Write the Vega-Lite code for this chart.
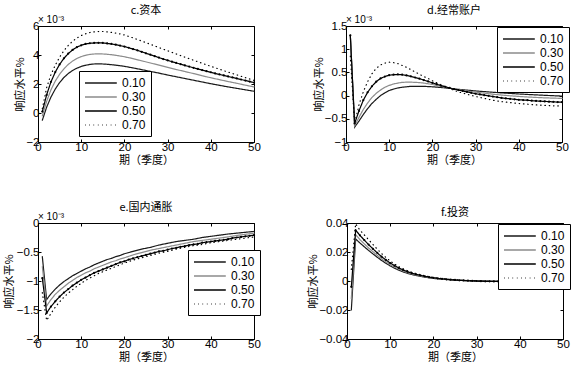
{
"$schema":"https://vega.github.io/schema/vega-lite/v6.json",
"background":"white",
"padding":{"left":2,"top":4,"right":4,"bottom":0},
"datasets":{
"c":[
{"s":"0.10","x":1,"y":-0.5},{"s":"0.10","x":2,"y":0.4},{"s":"0.10","x":3,"y":1.1},{"s":"0.10","x":4,"y":1.65},{"s":"0.10","x":5,"y":2.1},{"s":"0.10","x":6,"y":2.45},{"s":"0.10","x":7,"y":2.72},{"s":"0.10","x":8,"y":2.93},{"s":"0.10","x":9,"y":3.09},{"s":"0.10","x":10,"y":3.21},{"s":"0.10","x":11,"y":3.29},{"s":"0.10","x":12,"y":3.35},{"s":"0.10","x":13,"y":3.38},{"s":"0.10","x":14,"y":3.39},{"s":"0.10","x":15,"y":3.38},{"s":"0.10","x":16,"y":3.36},{"s":"0.10","x":17,"y":3.33},{"s":"0.10","x":18,"y":3.3},{"s":"0.10","x":19,"y":3.26},{"s":"0.10","x":20,"y":3.22},{"s":"0.10","x":22,"y":3.11},{"s":"0.10","x":24,"y":2.99},{"s":"0.10","x":26,"y":2.87},{"s":"0.10","x":28,"y":2.75},{"s":"0.10","x":30,"y":2.62},{"s":"0.10","x":32,"y":2.5},{"s":"0.10","x":34,"y":2.38},{"s":"0.10","x":36,"y":2.26},{"s":"0.10","x":38,"y":2.14},{"s":"0.10","x":40,"y":2.02},{"s":"0.10","x":42,"y":1.91},{"s":"0.10","x":44,"y":1.8},{"s":"0.10","x":46,"y":1.7},{"s":"0.10","x":48,"y":1.6},{"s":"0.10","x":50,"y":1.5},
{"s":"0.30","x":1,"y":-0.2},{"s":"0.30","x":2,"y":0.8},{"s":"0.30","x":3,"y":1.6},{"s":"0.30","x":4,"y":2.2},{"s":"0.30","x":5,"y":2.67},{"s":"0.30","x":6,"y":3.05},{"s":"0.30","x":7,"y":3.35},{"s":"0.30","x":8,"y":3.58},{"s":"0.30","x":9,"y":3.76},{"s":"0.30","x":10,"y":3.89},{"s":"0.30","x":11,"y":3.98},{"s":"0.30","x":12,"y":4.04},{"s":"0.30","x":13,"y":4.07},{"s":"0.30","x":14,"y":4.08},{"s":"0.30","x":15,"y":4.07},{"s":"0.30","x":16,"y":4.05},{"s":"0.30","x":17,"y":4.02},{"s":"0.30","x":18,"y":3.98},{"s":"0.30","x":19,"y":3.93},{"s":"0.30","x":20,"y":3.88},{"s":"0.30","x":22,"y":3.75},{"s":"0.30","x":24,"y":3.6},{"s":"0.30","x":26,"y":3.45},{"s":"0.30","x":28,"y":3.3},{"s":"0.30","x":30,"y":3.15},{"s":"0.30","x":32,"y":3.0},{"s":"0.30","x":34,"y":2.86},{"s":"0.30","x":36,"y":2.72},{"s":"0.30","x":38,"y":2.57},{"s":"0.30","x":40,"y":2.43},{"s":"0.30","x":42,"y":2.3},{"s":"0.30","x":44,"y":2.17},{"s":"0.30","x":46,"y":2.05},{"s":"0.30","x":48,"y":1.92},{"s":"0.30","x":50,"y":1.8},
{"s":"0.50","x":1,"y":0.1},{"s":"0.50","x":2,"y":1.25},{"s":"0.50","x":3,"y":2.15},{"s":"0.50","x":4,"y":2.82},{"s":"0.50","x":5,"y":3.35},{"s":"0.50","x":6,"y":3.77},{"s":"0.50","x":7,"y":4.1},{"s":"0.50","x":8,"y":4.35},{"s":"0.50","x":9,"y":4.54},{"s":"0.50","x":10,"y":4.67},{"s":"0.50","x":11,"y":4.76},{"s":"0.50","x":12,"y":4.81},{"s":"0.50","x":13,"y":4.83},{"s":"0.50","x":14,"y":4.84},{"s":"0.50","x":15,"y":4.83},{"s":"0.50","x":16,"y":4.8},{"s":"0.50","x":17,"y":4.76},{"s":"0.50","x":18,"y":4.71},{"s":"0.50","x":19,"y":4.65},{"s":"0.50","x":20,"y":4.58},{"s":"0.50","x":21,"y":4.5},{"s":"0.50","x":22,"y":4.41},{"s":"0.50","x":23,"y":4.32},{"s":"0.50","x":24,"y":4.22},{"s":"0.50","x":25,"y":4.12},{"s":"0.50","x":26,"y":4.02},{"s":"0.50","x":27,"y":3.92},{"s":"0.50","x":28,"y":3.82},{"s":"0.50","x":29,"y":3.72},{"s":"0.50","x":30,"y":3.63},{"s":"0.50","x":31,"y":3.54},{"s":"0.50","x":32,"y":3.45},{"s":"0.50","x":33,"y":3.37},{"s":"0.50","x":34,"y":3.28},{"s":"0.50","x":35,"y":3.2},{"s":"0.50","x":36,"y":3.12},{"s":"0.50","x":37,"y":3.04},{"s":"0.50","x":38,"y":2.96},{"s":"0.50","x":39,"y":2.88},{"s":"0.50","x":40,"y":2.81},{"s":"0.50","x":41,"y":2.73},{"s":"0.50","x":42,"y":2.66},{"s":"0.50","x":43,"y":2.59},{"s":"0.50","x":44,"y":2.52},{"s":"0.50","x":45,"y":2.45},{"s":"0.50","x":46,"y":2.38},{"s":"0.50","x":47,"y":2.31},{"s":"0.50","x":48,"y":2.24},{"s":"0.50","x":49,"y":2.17},{"s":"0.50","x":50,"y":2.1},
{"s":"0.70","x":1,"y":0.3},{"s":"0.70","x":2,"y":1.75},{"s":"0.70","x":3,"y":2.65},{"s":"0.70","x":4,"y":3.3},{"s":"0.70","x":5,"y":3.85},{"s":"0.70","x":6,"y":4.3},{"s":"0.70","x":7,"y":4.66},{"s":"0.70","x":8,"y":4.95},{"s":"0.70","x":9,"y":5.17},{"s":"0.70","x":10,"y":5.34},{"s":"0.70","x":11,"y":5.46},{"s":"0.70","x":12,"y":5.55},{"s":"0.70","x":13,"y":5.6},{"s":"0.70","x":14,"y":5.62},{"s":"0.70","x":15,"y":5.62},{"s":"0.70","x":16,"y":5.6},{"s":"0.70","x":17,"y":5.56},{"s":"0.70","x":18,"y":5.51},{"s":"0.70","x":19,"y":5.45},{"s":"0.70","x":20,"y":5.38},{"s":"0.70","x":22,"y":5.18},{"s":"0.70","x":24,"y":4.96},{"s":"0.70","x":26,"y":4.74},{"s":"0.70","x":28,"y":4.51},{"s":"0.70","x":30,"y":4.29},{"s":"0.70","x":32,"y":4.07},{"s":"0.70","x":34,"y":3.85},{"s":"0.70","x":36,"y":3.64},{"s":"0.70","x":38,"y":3.43},{"s":"0.70","x":40,"y":3.22},{"s":"0.70","x":42,"y":3.02},{"s":"0.70","x":44,"y":2.82},{"s":"0.70","x":46,"y":2.63},{"s":"0.70","x":48,"y":2.44},{"s":"0.70","x":50,"y":2.25}
],
"d":[
{"s":"0.10","x":1,"y":1.3},{"s":"0.10","x":2,"y":-0.68},{"s":"0.10","x":3,"y":-0.55},{"s":"0.10","x":4,"y":-0.41},{"s":"0.10","x":5,"y":-0.28},{"s":"0.10","x":6,"y":-0.17},{"s":"0.10","x":7,"y":-0.08},{"s":"0.10","x":8,"y":0.0},{"s":"0.10","x":9,"y":0.06},{"s":"0.10","x":10,"y":0.11},{"s":"0.10","x":11,"y":0.14},{"s":"0.10","x":12,"y":0.165},{"s":"0.10","x":13,"y":0.18},{"s":"0.10","x":14,"y":0.19},{"s":"0.10","x":15,"y":0.2},{"s":"0.10","x":16,"y":0.2},{"s":"0.10","x":17,"y":0.2},{"s":"0.10","x":18,"y":0.2},{"s":"0.10","x":19,"y":0.195},{"s":"0.10","x":20,"y":0.19},{"s":"0.10","x":22,"y":0.175},{"s":"0.10","x":24,"y":0.155},{"s":"0.10","x":26,"y":0.135},{"s":"0.10","x":28,"y":0.118},{"s":"0.10","x":30,"y":0.1},{"s":"0.10","x":32,"y":0.086},{"s":"0.10","x":34,"y":0.072},{"s":"0.10","x":36,"y":0.059},{"s":"0.10","x":38,"y":0.047},{"s":"0.10","x":40,"y":0.035},{"s":"0.10","x":42,"y":0.025},{"s":"0.10","x":44,"y":0.015},{"s":"0.10","x":46,"y":0.006},{"s":"0.10","x":48,"y":-0.002},{"s":"0.10","x":50,"y":-0.01},
{"s":"0.30","x":1,"y":1.3},{"s":"0.30","x":2,"y":-0.65},{"s":"0.30","x":3,"y":-0.47},{"s":"0.30","x":4,"y":-0.3},{"s":"0.30","x":5,"y":-0.16},{"s":"0.30","x":6,"y":-0.04},{"s":"0.30","x":7,"y":0.05},{"s":"0.30","x":8,"y":0.12},{"s":"0.30","x":9,"y":0.18},{"s":"0.30","x":10,"y":0.22},{"s":"0.30","x":11,"y":0.25},{"s":"0.30","x":12,"y":0.27},{"s":"0.30","x":13,"y":0.285},{"s":"0.30","x":14,"y":0.29},{"s":"0.30","x":15,"y":0.29},{"s":"0.30","x":16,"y":0.285},{"s":"0.30","x":17,"y":0.28},{"s":"0.30","x":18,"y":0.27},{"s":"0.30","x":19,"y":0.255},{"s":"0.30","x":20,"y":0.24},{"s":"0.30","x":22,"y":0.2},{"s":"0.30","x":24,"y":0.16},{"s":"0.30","x":26,"y":0.13},{"s":"0.30","x":28,"y":0.1},{"s":"0.30","x":30,"y":0.075},{"s":"0.30","x":32,"y":0.052},{"s":"0.30","x":34,"y":0.03},{"s":"0.30","x":36,"y":0.012},{"s":"0.30","x":38,"y":-0.004},{"s":"0.30","x":40,"y":-0.018},{"s":"0.30","x":42,"y":-0.03},{"s":"0.30","x":44,"y":-0.04},{"s":"0.30","x":46,"y":-0.048},{"s":"0.30","x":48,"y":-0.055},{"s":"0.30","x":50,"y":-0.06},
{"s":"0.50","x":1,"y":1.3},{"s":"0.50","x":2,"y":-0.6},{"s":"0.50","x":3,"y":-0.33},{"s":"0.50","x":4,"y":-0.1},{"s":"0.50","x":5,"y":0.07},{"s":"0.50","x":6,"y":0.2},{"s":"0.50","x":7,"y":0.3},{"s":"0.50","x":8,"y":0.37},{"s":"0.50","x":9,"y":0.41},{"s":"0.50","x":10,"y":0.44},{"s":"0.50","x":11,"y":0.45},{"s":"0.50","x":12,"y":0.455},{"s":"0.50","x":13,"y":0.45},{"s":"0.50","x":14,"y":0.435},{"s":"0.50","x":15,"y":0.415},{"s":"0.50","x":16,"y":0.39},{"s":"0.50","x":17,"y":0.365},{"s":"0.50","x":18,"y":0.335},{"s":"0.50","x":19,"y":0.305},{"s":"0.50","x":20,"y":0.275},{"s":"0.50","x":21,"y":0.245},{"s":"0.50","x":22,"y":0.215},{"s":"0.50","x":23,"y":0.19},{"s":"0.50","x":24,"y":0.165},{"s":"0.50","x":25,"y":0.14},{"s":"0.50","x":26,"y":0.12},{"s":"0.50","x":27,"y":0.1},{"s":"0.50","x":28,"y":0.08},{"s":"0.50","x":29,"y":0.06},{"s":"0.50","x":30,"y":0.04},{"s":"0.50","x":31,"y":0.025},{"s":"0.50","x":32,"y":0.01},{"s":"0.50","x":33,"y":-0.005},{"s":"0.50","x":34,"y":-0.02},{"s":"0.50","x":35,"y":-0.035},{"s":"0.50","x":36,"y":-0.05},{"s":"0.50","x":37,"y":-0.06},{"s":"0.50","x":38,"y":-0.07},{"s":"0.50","x":39,"y":-0.08},{"s":"0.50","x":40,"y":-0.09},{"s":"0.50","x":41,"y":-0.095},{"s":"0.50","x":42,"y":-0.1},{"s":"0.50","x":43,"y":-0.11},{"s":"0.50","x":44,"y":-0.115},{"s":"0.50","x":45,"y":-0.12},{"s":"0.50","x":46,"y":-0.125},{"s":"0.50","x":47,"y":-0.13},{"s":"0.50","x":48,"y":-0.135},{"s":"0.50","x":49,"y":-0.14},{"s":"0.50","x":50,"y":-0.14},
{"s":"0.70","x":1,"y":0.85},{"s":"0.70","x":2,"y":-0.6},{"s":"0.70","x":3,"y":-0.2},{"s":"0.70","x":4,"y":0.08},{"s":"0.70","x":5,"y":0.3},{"s":"0.70","x":6,"y":0.47},{"s":"0.70","x":7,"y":0.59},{"s":"0.70","x":8,"y":0.66},{"s":"0.70","x":9,"y":0.7},{"s":"0.70","x":10,"y":0.72},{"s":"0.70","x":11,"y":0.71},{"s":"0.70","x":12,"y":0.69},{"s":"0.70","x":13,"y":0.65},{"s":"0.70","x":14,"y":0.61},{"s":"0.70","x":15,"y":0.56},{"s":"0.70","x":16,"y":0.51},{"s":"0.70","x":17,"y":0.46},{"s":"0.70","x":18,"y":0.41},{"s":"0.70","x":19,"y":0.37},{"s":"0.70","x":20,"y":0.32},{"s":"0.70","x":22,"y":0.23},{"s":"0.70","x":24,"y":0.15},{"s":"0.70","x":26,"y":0.08},{"s":"0.70","x":28,"y":0.03},{"s":"0.70","x":30,"y":-0.02},{"s":"0.70","x":32,"y":-0.06},{"s":"0.70","x":34,"y":-0.1},{"s":"0.70","x":36,"y":-0.13},{"s":"0.70","x":38,"y":-0.15},{"s":"0.70","x":40,"y":-0.17},{"s":"0.70","x":42,"y":-0.185},{"s":"0.70","x":44,"y":-0.2},{"s":"0.70","x":46,"y":-0.21},{"s":"0.70","x":48,"y":-0.22},{"s":"0.70","x":50,"y":-0.225}
],
"e":[
{"s":"0.10","x":1,"y":-0.58},{"s":"0.10","x":2,"y":-1.32},{"s":"0.10","x":3,"y":-1.22},{"s":"0.10","x":4,"y":-1.14},{"s":"0.10","x":5,"y":-1.07},{"s":"0.10","x":6,"y":-1.01},{"s":"0.10","x":7,"y":-0.96},{"s":"0.10","x":8,"y":-0.91},{"s":"0.10","x":9,"y":-0.87},{"s":"0.10","x":10,"y":-0.83},{"s":"0.10","x":11,"y":-0.79},{"s":"0.10","x":12,"y":-0.76},{"s":"0.10","x":13,"y":-0.72},{"s":"0.10","x":14,"y":-0.69},{"s":"0.10","x":15,"y":-0.66},{"s":"0.10","x":16,"y":-0.63},{"s":"0.10","x":17,"y":-0.61},{"s":"0.10","x":18,"y":-0.58},{"s":"0.10","x":19,"y":-0.56},{"s":"0.10","x":20,"y":-0.53},{"s":"0.10","x":22,"y":-0.49},{"s":"0.10","x":24,"y":-0.45},{"s":"0.10","x":26,"y":-0.42},{"s":"0.10","x":28,"y":-0.38},{"s":"0.10","x":30,"y":-0.35},{"s":"0.10","x":32,"y":-0.32},{"s":"0.10","x":34,"y":-0.3},{"s":"0.10","x":36,"y":-0.28},{"s":"0.10","x":38,"y":-0.25},{"s":"0.10","x":40,"y":-0.23},{"s":"0.10","x":42,"y":-0.21},{"s":"0.10","x":44,"y":-0.19},{"s":"0.10","x":46,"y":-0.175},{"s":"0.10","x":48,"y":-0.16},{"s":"0.10","x":50,"y":-0.145},
{"s":"0.30","x":1,"y":-0.75},{"s":"0.30","x":2,"y":-1.43},{"s":"0.30","x":3,"y":-1.32},{"s":"0.30","x":4,"y":-1.23},{"s":"0.30","x":5,"y":-1.16},{"s":"0.30","x":6,"y":-1.1},{"s":"0.30","x":7,"y":-1.04},{"s":"0.30","x":8,"y":-0.99},{"s":"0.30","x":9,"y":-0.94},{"s":"0.30","x":10,"y":-0.9},{"s":"0.30","x":11,"y":-0.86},{"s":"0.30","x":12,"y":-0.83},{"s":"0.30","x":13,"y":-0.79},{"s":"0.30","x":14,"y":-0.76},{"s":"0.30","x":15,"y":-0.73},{"s":"0.30","x":16,"y":-0.7},{"s":"0.30","x":17,"y":-0.67},{"s":"0.30","x":18,"y":-0.65},{"s":"0.30","x":19,"y":-0.62},{"s":"0.30","x":20,"y":-0.6},{"s":"0.30","x":22,"y":-0.55},{"s":"0.30","x":24,"y":-0.51},{"s":"0.30","x":26,"y":-0.47},{"s":"0.30","x":28,"y":-0.44},{"s":"0.30","x":30,"y":-0.41},{"s":"0.30","x":32,"y":-0.38},{"s":"0.30","x":34,"y":-0.35},{"s":"0.30","x":36,"y":-0.32},{"s":"0.30","x":38,"y":-0.3},{"s":"0.30","x":40,"y":-0.28},{"s":"0.30","x":42,"y":-0.26},{"s":"0.30","x":44,"y":-0.24},{"s":"0.30","x":46,"y":-0.215},{"s":"0.30","x":48,"y":-0.195},{"s":"0.30","x":50,"y":-0.175},
{"s":"0.50","x":1,"y":-0.95},{"s":"0.50","x":2,"y":-1.55},{"s":"0.50","x":3,"y":-1.44},{"s":"0.50","x":4,"y":-1.35},{"s":"0.50","x":5,"y":-1.27},{"s":"0.50","x":6,"y":-1.2},{"s":"0.50","x":7,"y":-1.14},{"s":"0.50","x":8,"y":-1.08},{"s":"0.50","x":9,"y":-1.03},{"s":"0.50","x":10,"y":-0.98},{"s":"0.50","x":11,"y":-0.94},{"s":"0.50","x":12,"y":-0.9},{"s":"0.50","x":13,"y":-0.86},{"s":"0.50","x":14,"y":-0.83},{"s":"0.50","x":15,"y":-0.8},{"s":"0.50","x":16,"y":-0.77},{"s":"0.50","x":17,"y":-0.74},{"s":"0.50","x":18,"y":-0.71},{"s":"0.50","x":19,"y":-0.68},{"s":"0.50","x":20,"y":-0.66},{"s":"0.50","x":21,"y":-0.63},{"s":"0.50","x":22,"y":-0.61},{"s":"0.50","x":23,"y":-0.59},{"s":"0.50","x":24,"y":-0.57},{"s":"0.50","x":25,"y":-0.55},{"s":"0.50","x":26,"y":-0.53},{"s":"0.50","x":27,"y":-0.51},{"s":"0.50","x":28,"y":-0.49},{"s":"0.50","x":29,"y":-0.48},{"s":"0.50","x":30,"y":-0.46},{"s":"0.50","x":31,"y":-0.44},{"s":"0.50","x":32,"y":-0.43},{"s":"0.50","x":33,"y":-0.41},{"s":"0.50","x":34,"y":-0.4},{"s":"0.50","x":35,"y":-0.38},{"s":"0.50","x":36,"y":-0.37},{"s":"0.50","x":37,"y":-0.36},{"s":"0.50","x":38,"y":-0.34},{"s":"0.50","x":39,"y":-0.33},{"s":"0.50","x":40,"y":-0.32},{"s":"0.50","x":41,"y":-0.31},{"s":"0.50","x":42,"y":-0.3},{"s":"0.50","x":43,"y":-0.29},{"s":"0.50","x":44,"y":-0.28},{"s":"0.50","x":45,"y":-0.26},{"s":"0.50","x":46,"y":-0.25},{"s":"0.50","x":47,"y":-0.24},{"s":"0.50","x":48,"y":-0.23},{"s":"0.50","x":49,"y":-0.22},{"s":"0.50","x":50,"y":-0.21},
{"s":"0.70","x":1,"y":-1.2},{"s":"0.70","x":2,"y":-1.68},{"s":"0.70","x":3,"y":-1.56},{"s":"0.70","x":4,"y":-1.45},{"s":"0.70","x":5,"y":-1.36},{"s":"0.70","x":6,"y":-1.28},{"s":"0.70","x":7,"y":-1.21},{"s":"0.70","x":8,"y":-1.15},{"s":"0.70","x":9,"y":-1.09},{"s":"0.70","x":10,"y":-1.04},{"s":"0.70","x":11,"y":-0.99},{"s":"0.70","x":12,"y":-0.95},{"s":"0.70","x":13,"y":-0.91},{"s":"0.70","x":14,"y":-0.87},{"s":"0.70","x":15,"y":-0.84},{"s":"0.70","x":16,"y":-0.81},{"s":"0.70","x":17,"y":-0.78},{"s":"0.70","x":18,"y":-0.75},{"s":"0.70","x":19,"y":-0.72},{"s":"0.70","x":20,"y":-0.69},{"s":"0.70","x":22,"y":-0.64},{"s":"0.70","x":24,"y":-0.6},{"s":"0.70","x":26,"y":-0.56},{"s":"0.70","x":28,"y":-0.52},{"s":"0.70","x":30,"y":-0.49},{"s":"0.70","x":32,"y":-0.45},{"s":"0.70","x":34,"y":-0.42},{"s":"0.70","x":36,"y":-0.39},{"s":"0.70","x":38,"y":-0.37},{"s":"0.70","x":40,"y":-0.34},{"s":"0.70","x":42,"y":-0.32},{"s":"0.70","x":44,"y":-0.3},{"s":"0.70","x":46,"y":-0.28},{"s":"0.70","x":48,"y":-0.26},{"s":"0.70","x":50,"y":-0.24}
],
"f":[
{"s":"0.10","x":1,"y":-0.02},{"s":"0.10","x":2,"y":0.029},{"s":"0.10","x":3,"y":0.0262},{"s":"0.10","x":4,"y":0.0236},{"s":"0.10","x":5,"y":0.0211},{"s":"0.10","x":6,"y":0.0187},{"s":"0.10","x":7,"y":0.0164},{"s":"0.10","x":8,"y":0.0142},{"s":"0.10","x":9,"y":0.0122},{"s":"0.10","x":10,"y":0.0104},{"s":"0.10","x":11,"y":0.0088},{"s":"0.10","x":12,"y":0.0075},{"s":"0.10","x":13,"y":0.0063},{"s":"0.10","x":14,"y":0.0053},{"s":"0.10","x":15,"y":0.0045},{"s":"0.10","x":16,"y":0.0038},{"s":"0.10","x":17,"y":0.0032},{"s":"0.10","x":18,"y":0.0027},{"s":"0.10","x":19,"y":0.0022},{"s":"0.10","x":20,"y":0.0018},{"s":"0.10","x":22,"y":0.0012},{"s":"0.10","x":24,"y":0.0008},{"s":"0.10","x":26,"y":0.0004},{"s":"0.10","x":28,"y":0.0002},{"s":"0.10","x":30,"y":0},{"s":"0.10","x":32,"y":-0.0001},{"s":"0.10","x":34,"y":-0.0002},{"s":"0.10","x":36,"y":-0.0002},{"s":"0.10","x":38,"y":-0.0002},{"s":"0.10","x":40,"y":-0.0002},{"s":"0.10","x":42,"y":-0.0002},{"s":"0.10","x":44,"y":-0.0002},{"s":"0.10","x":46,"y":-0.0002},{"s":"0.10","x":48,"y":-0.0002},{"s":"0.10","x":50,"y":-0.0002},
{"s":"0.30","x":1,"y":-0.012},{"s":"0.30","x":2,"y":0.032},{"s":"0.30","x":3,"y":0.0285},{"s":"0.30","x":4,"y":0.0256},{"s":"0.30","x":5,"y":0.0228},{"s":"0.30","x":6,"y":0.0202},{"s":"0.30","x":7,"y":0.0177},{"s":"0.30","x":8,"y":0.0153},{"s":"0.30","x":9,"y":0.0132},{"s":"0.30","x":10,"y":0.0113},{"s":"0.30","x":11,"y":0.0096},{"s":"0.30","x":12,"y":0.0082},{"s":"0.30","x":13,"y":0.0069},{"s":"0.30","x":14,"y":0.0058},{"s":"0.30","x":15,"y":0.0049},{"s":"0.30","x":16,"y":0.0041},{"s":"0.30","x":17,"y":0.0035},{"s":"0.30","x":18,"y":0.0029},{"s":"0.30","x":19,"y":0.0024},{"s":"0.30","x":20,"y":0.002},{"s":"0.30","x":22,"y":0.0013},{"s":"0.30","x":24,"y":0.0009},{"s":"0.30","x":26,"y":0.0005},{"s":"0.30","x":28,"y":0.0002},{"s":"0.30","x":30,"y":0},{"s":"0.30","x":32,"y":-0.0001},{"s":"0.30","x":34,"y":-0.0002},{"s":"0.30","x":36,"y":-0.0003},{"s":"0.30","x":38,"y":-0.0003},{"s":"0.30","x":40,"y":-0.0003},{"s":"0.30","x":42,"y":-0.0003},{"s":"0.30","x":44,"y":-0.0003},{"s":"0.30","x":46,"y":-0.0003},{"s":"0.30","x":48,"y":-0.0003},{"s":"0.30","x":50,"y":-0.0003},
{"s":"0.50","x":1,"y":-0.004},{"s":"0.50","x":2,"y":0.035},{"s":"0.50","x":3,"y":0.0315},{"s":"0.50","x":4,"y":0.0282},{"s":"0.50","x":5,"y":0.0251},{"s":"0.50","x":6,"y":0.0222},{"s":"0.50","x":7,"y":0.0194},{"s":"0.50","x":8,"y":0.0168},{"s":"0.50","x":9,"y":0.0145},{"s":"0.50","x":10,"y":0.0124},{"s":"0.50","x":11,"y":0.0106},{"s":"0.50","x":12,"y":0.009},{"s":"0.50","x":13,"y":0.0076},{"s":"0.50","x":14,"y":0.0064},{"s":"0.50","x":15,"y":0.0054},{"s":"0.50","x":16,"y":0.0046},{"s":"0.50","x":17,"y":0.0039},{"s":"0.50","x":18,"y":0.0032},{"s":"0.50","x":19,"y":0.0027},{"s":"0.50","x":20,"y":0.0022},{"s":"0.50","x":21,"y":0.0018},{"s":"0.50","x":22,"y":0.0015},{"s":"0.50","x":23,"y":0.0012},{"s":"0.50","x":24,"y":0.0009},{"s":"0.50","x":25,"y":0.0007},{"s":"0.50","x":26,"y":0.0005},{"s":"0.50","x":27,"y":0.0004},{"s":"0.50","x":28,"y":0.0002},{"s":"0.50","x":29,"y":0.0001},{"s":"0.50","x":30,"y":0},{"s":"0.50","x":31,"y":-0.0001},{"s":"0.50","x":32,"y":-0.0002},{"s":"0.50","x":33,"y":-0.0002},{"s":"0.50","x":34,"y":-0.0003},{"s":"0.50","x":35,"y":-0.0003},{"s":"0.50","x":36,"y":-0.0004},{"s":"0.50","x":37,"y":-0.0004},{"s":"0.50","x":38,"y":-0.0004},{"s":"0.50","x":39,"y":-0.0004},{"s":"0.50","x":40,"y":-0.0004},{"s":"0.50","x":41,"y":-0.0004},{"s":"0.50","x":42,"y":-0.0004},{"s":"0.50","x":43,"y":-0.0004},{"s":"0.50","x":44,"y":-0.0004},{"s":"0.50","x":45,"y":-0.0004},{"s":"0.50","x":46,"y":-0.0004},{"s":"0.50","x":47,"y":-0.0004},{"s":"0.50","x":48,"y":-0.0004},{"s":"0.50","x":49,"y":-0.0004},{"s":"0.50","x":50,"y":-0.0004},
{"s":"0.70","x":1,"y":0.008},{"s":"0.70","x":2,"y":0.0395},{"s":"0.70","x":3,"y":0.035},{"s":"0.70","x":4,"y":0.0318},{"s":"0.70","x":5,"y":0.0285},{"s":"0.70","x":6,"y":0.0252},{"s":"0.70","x":7,"y":0.022},{"s":"0.70","x":8,"y":0.019},{"s":"0.70","x":9,"y":0.0162},{"s":"0.70","x":10,"y":0.0138},{"s":"0.70","x":11,"y":0.0117},{"s":"0.70","x":12,"y":0.0099},{"s":"0.70","x":13,"y":0.0084},{"s":"0.70","x":14,"y":0.0071},{"s":"0.70","x":15,"y":0.006},{"s":"0.70","x":16,"y":0.0051},{"s":"0.70","x":17,"y":0.0043},{"s":"0.70","x":18,"y":0.0036},{"s":"0.70","x":19,"y":0.003},{"s":"0.70","x":20,"y":0.0025},{"s":"0.70","x":22,"y":0.0017},{"s":"0.70","x":24,"y":0.0011},{"s":"0.70","x":26,"y":0.0006},{"s":"0.70","x":28,"y":0.0003},{"s":"0.70","x":30,"y":0},{"s":"0.70","x":32,"y":-0.0002},{"s":"0.70","x":34,"y":-0.0003},{"s":"0.70","x":36,"y":-0.0004},{"s":"0.70","x":38,"y":-0.0005},{"s":"0.70","x":40,"y":-0.0005},{"s":"0.70","x":42,"y":-0.0005},{"s":"0.70","x":44,"y":-0.0005},{"s":"0.70","x":46,"y":-0.0005},{"s":"0.70","x":48,"y":-0.0005},{"s":"0.70","x":50,"y":-0.0005}
]
},
"vconcat":[
{"hconcat":[
{"width":216,"height":116,"title":"c.资本","data":{"name":"c"},
"resolve":{"axis":{"x":"independent","y":"independent"}},
"layer":[
{"mark":{"type":"line","strokeWidth":1.2},
"encoding":{
"x":{"field":"x","type":"quantitative","scale":{"domain":[0,50],"nice":false},"axis":{"values":[0,10,20,30,40,50],"tickCount":12,"labelOverlap":false,"title":"期（季度）"}},
"y":{"field":"y","type":"quantitative","scale":{"domain":[-2,6],"nice":false},"axis":{"values":[-2,0,2,4,6],"tickCount":12,"format":"~g","labelOverlap":false,"title":"响应水平%","titlePadding":0,"labelPadding":2}},
"color":{"field":"s","type":"nominal","scale":{"domain":["0.10","0.30","0.50","0.70"],"range":["#1a1a1a","#8c8c8c","#000000","#000000"]},"legend":{"orient":"none","legendX":41,"legendY":45}},
"strokeDash":{"field":"s","type":"nominal","scale":{"domain":["0.10","0.30","0.50","0.70"],"range":[[1,0],[1,0],[1,0],[0.5,3.8]]},"legend":{"orient":"none","legendX":41,"legendY":45}}}},
{"transform":[{"filter":"datum.s==='0.50'"}],"mark":{"type":"circle","size":5,"color":"black","opacity":1},
"encoding":{"x":{"field":"x","type":"quantitative","axis":{"orient":"top","values":[0,10,20,30,40,50],"tickCount":12,"labels":false,"title":null}},"y":{"field":"y","type":"quantitative","axis":{"orient":"right","values":[-2,0,2,4,6],"tickCount":12,"labels":false,"title":null}}}},
{"data":{"values":[{}]},"mark":{"type":"text","align":"left","baseline":"bottom","dy":-1,"fontSize":10,"font":"Liberation Sans"},
"encoding":{"x":{"datum":0,"axis":null},"y":{"datum":6,"axis":null},"text":{"value":"× 10⁻³"}}}
]},
{"width":216,"height":116,"title":"d.经常账户","data":{"name":"d"},
"resolve":{"axis":{"x":"independent","y":"independent"}},
"layer":[
{"mark":{"type":"line","strokeWidth":1.2},
"encoding":{
"x":{"field":"x","type":"quantitative","scale":{"domain":[0,50],"nice":false},"axis":{"values":[0,10,20,30,40,50],"tickCount":12,"labelOverlap":false,"title":"期（季度）"}},
"y":{"field":"y","type":"quantitative","scale":{"domain":[-1,1.5],"nice":false},"axis":{"values":[-1,-0.5,0,0.5,1,1.5],"tickCount":12,"format":"~g","labelOverlap":false,"title":"响应水平%","titlePadding":0,"labelPadding":2}},
"color":{"field":"s","type":"nominal","scale":{"domain":["0.10","0.30","0.50","0.70"],"range":["#1a1a1a","#8c8c8c","#000000","#000000"]},"legend":{"orient":"none","legendX":151,"legendY":1}},
"strokeDash":{"field":"s","type":"nominal","scale":{"domain":["0.10","0.30","0.50","0.70"],"range":[[1,0],[1,0],[1,0],[0.5,3.8]]},"legend":{"orient":"none","legendX":151,"legendY":1}}}},
{"transform":[{"filter":"datum.s==='0.50'"}],"mark":{"type":"circle","size":5,"color":"black","opacity":1},
"encoding":{"x":{"field":"x","type":"quantitative","axis":{"orient":"top","values":[0,10,20,30,40,50],"tickCount":12,"labels":false,"title":null}},"y":{"field":"y","type":"quantitative","axis":{"orient":"right","values":[-1,-0.5,0,0.5,1,1.5],"tickCount":12,"labels":false,"title":null}}}},
{"data":{"values":[{}]},"mark":{"type":"text","align":"left","baseline":"bottom","dy":-1,"fontSize":10,"font":"Liberation Sans"},
"encoding":{"x":{"datum":0,"axis":null},"y":{"datum":1.5,"axis":null},"text":{"value":"× 10⁻³"}}}
]}
],"spacing":51,"resolve":{"scale":{"color":"independent","strokeDash":"independent"},"legend":{"color":"independent","strokeDash":"independent"}}},
{"hconcat":[
{"width":216,"height":116,"title":"e.国内通胀","data":{"name":"e"},
"resolve":{"axis":{"x":"independent","y":"independent"}},
"layer":[
{"mark":{"type":"line","strokeWidth":1.2},
"encoding":{
"x":{"field":"x","type":"quantitative","scale":{"domain":[0,50],"nice":false},"axis":{"values":[0,10,20,30,40,50],"tickCount":12,"labelOverlap":false,"title":"期（季度）"}},
"y":{"field":"y","type":"quantitative","scale":{"domain":[-2,0],"nice":false},"axis":{"values":[-2,-1.5,-1,-0.5,0],"tickCount":12,"format":"~g","labelOverlap":false,"title":"响应水平%","titlePadding":2,"labelPadding":2}},
"color":{"field":"s","type":"nominal","scale":{"domain":["0.10","0.30","0.50","0.70"],"range":["#1a1a1a","#8c8c8c","#000000","#000000"]},"legend":{"orient":"none","legendX":150,"legendY":27}},
"strokeDash":{"field":"s","type":"nominal","scale":{"domain":["0.10","0.30","0.50","0.70"],"range":[[1,0],[1,0],[1,0],[0.5,3.8]]},"legend":{"orient":"none","legendX":150,"legendY":27}}}},
{"transform":[{"filter":"datum.s==='0.50'"}],"mark":{"type":"circle","size":5,"color":"black","opacity":1},
"encoding":{"x":{"field":"x","type":"quantitative","axis":{"orient":"top","values":[0,10,20,30,40,50],"tickCount":12,"labels":false,"title":null}},"y":{"field":"y","type":"quantitative","axis":{"orient":"right","values":[-2,-1.5,-1,-0.5,0],"tickCount":12,"labels":false,"title":null}}}},
{"data":{"values":[{}]},"mark":{"type":"text","align":"left","baseline":"bottom","dy":-1,"fontSize":10,"font":"Liberation Sans"},
"encoding":{"x":{"datum":0,"axis":null},"y":{"datum":0,"axis":null},"text":{"value":"× 10⁻³"}}}
]},
{"width":216,"height":116,"title":"f.投资","data":{"name":"f"},
"resolve":{"axis":{"x":"independent","y":"independent"}},
"layer":[
{"mark":{"type":"line","strokeWidth":1.2},
"encoding":{
"x":{"field":"x","type":"quantitative","scale":{"domain":[0,50],"nice":false},"axis":{"values":[0,10,20,30,40,50],"tickCount":12,"labelOverlap":false,"title":"期（季度）"}},
"y":{"field":"y","type":"quantitative","scale":{"domain":[-0.04,0.04],"nice":false},"axis":{"values":[-0.04,-0.02,0,0.02,0.04],"tickCount":12,"format":"~g","labelOverlap":false,"title":"响应水平%","titlePadding":0,"labelPadding":2}},
"color":{"field":"s","type":"nominal","scale":{"domain":["0.10","0.30","0.50","0.70"],"range":["#1a1a1a","#8c8c8c","#000000","#000000"]},"legend":{"orient":"none","legendX":151,"legendY":1}},
"strokeDash":{"field":"s","type":"nominal","scale":{"domain":["0.10","0.30","0.50","0.70"],"range":[[1,0],[1,0],[1,0],[0.5,3.8]]},"legend":{"orient":"none","legendX":151,"legendY":1}}}},
{"transform":[{"filter":"datum.s==='0.50'"}],"mark":{"type":"circle","size":5,"color":"black","opacity":1},
"encoding":{"x":{"field":"x","type":"quantitative","axis":{"orient":"top","values":[0,10,20,30,40,50],"tickCount":12,"labels":false,"title":null}},"y":{"field":"y","type":"quantitative","axis":{"orient":"right","values":[-0.04,-0.02,0,0.02,0.04],"tickCount":12,"labels":false,"title":null}}}}
]}
],"spacing":46,"resolve":{"scale":{"color":"independent","strokeDash":"independent"},"legend":{"color":"independent","strokeDash":"independent"}}}
],
"spacing":35,
"resolve":{"scale":{"color":"independent","strokeDash":"independent"},"legend":{"color":"independent","strokeDash":"independent"}},
"config":{
"font":"Liberation Sans",
"view":{"stroke":"black","strokeWidth":1},
"line":{"strokeCap":"round"},
"axis":{"grid":false,"domain":false,"tickColor":"black","tickSize":-3,"labelColor":"black","labelFontSize":11.5,"labelFont":"Liberation Sans","titleFont":"Noto Sans CJK SC","titleFontSize":11,"titleFontWeight":"normal","titleColor":"black","labelFlush":false},
"axisX":{"titlePadding":2,"labelPadding":2},
"title":{"font":"Noto Sans CJK SC","fontSize":11,"fontWeight":"normal","color":"black","offset":-1},
"legend":{"title":null,"strokeColor":"black","fillColor":"white","padding":5,"labelFontSize":12,"labelFont":"Liberation Sans","labelColor":"black","symbolType":"M-1,0H4.3","symbolSize":144,"symbolStrokeWidth":1.3,"rowPadding":1,"labelOffset":24}
}
}
